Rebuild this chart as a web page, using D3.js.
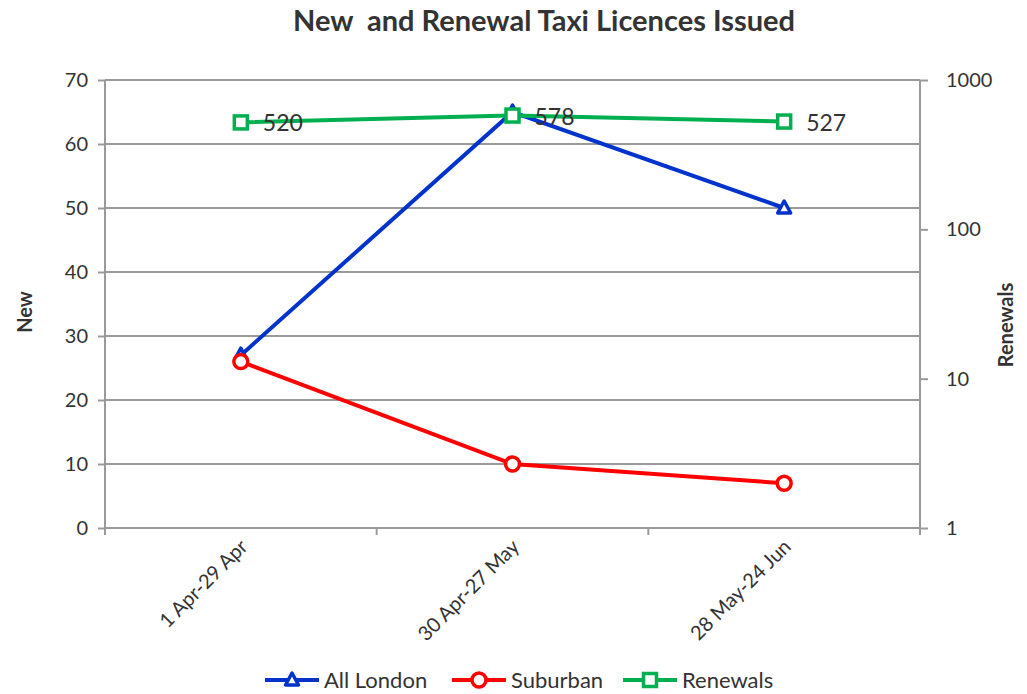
<!DOCTYPE html>
<html>
<head>
<meta charset="utf-8">
<script src="https://cdn.jsdelivr.net/npm/d3@7"></script>
<style>
  body { margin: 0; background: #fff; }
  text { font-family: Lato, "Open Sans", sans-serif; fill: #333; }
</style>
</head>
<body>
<script>
// data
var categories = ["1 Apr-29 Apr", "30 Apr-27 May", "28 May-24 Jun"];
var allLondon = [27, 65, 50];
var suburban = [26, 10, 7];
var renewals = [520, 578, 527];
var leftTicks = [0, 10, 20, 30, 40, 50, 60, 70];
var rightTicks = [1, 10, 100, 1000];

var width = 1027, height = 694;
var margin = { top: 80, right: 107, bottom: 166, left: 105 };
var innerW = width - margin.left - margin.right,
    innerH = height - margin.top - margin.bottom;

var svg = d3.select("body").append("svg")
    .attr("width", width)
    .attr("height", height);

var g = svg.append("g")
    .attr("transform", "translate(" + margin.left + "," + margin.top + ")");

var x = d3.scaleBand().domain(categories).range([0, innerW]);
var yL = d3.scaleLinear().domain([0, 70]).range([innerH, 0]);
var yR = d3.scaleLog().domain([1, 1000]).range([innerH, 0]);

var gridColor = "#9a9a9a";

// gridlines
g.selectAll("line.grid")
    .data(leftTicks)
    .enter().append("line")
    .attr("class", "grid")
    .attr("x1", 0).attr("x2", innerW)
    .attr("y1", function (d) { return yL(d); })
    .attr("y2", function (d) { return yL(d); })
    .attr("stroke", gridColor)
    .attr("stroke-width", 2);

// left axis
var leftAxis = g.append("g")
    .call(d3.axisLeft(yL).tickValues(leftTicks).tickSize(7).tickPadding(10));
// right axis
var rightAxis = g.append("g")
    .attr("transform", "translate(" + innerW + ",0)")
    .call(d3.axisRight(yR).tickValues(rightTicks).tickFormat(d3.format("d")).tickSize(8).tickPadding(18));
// bottom axis: ticks at band boundaries
var bottomAxis = g.append("g")
    .attr("transform", "translate(0," + innerH + ")");
bottomAxis.append("line")
    .attr("x1", 0).attr("x2", innerW)
    .attr("stroke", gridColor).attr("stroke-width", 2);
var bounds = categories.map(function (c) { return x(c); }).concat([innerW]);
bottomAxis.selectAll("line.tick")
    .data(bounds)
    .enter().append("line")
    .attr("class", "tick")
    .attr("x1", function (d) { return d; })
    .attr("x2", function (d) { return d; })
    .attr("y1", 0).attr("y2", 7)
    .attr("stroke", gridColor).attr("stroke-width", 2);
bottomAxis.selectAll("text")
    .data(categories)
    .enter().append("text")
    .attr("transform", function (d) {
        return "translate(" + (x(d) + x.bandwidth() / 2 + 8) + ",20) rotate(-45)";
    })
    .attr("text-anchor", "end")
    .attr("font-size", 20)
    .text(function (d) { return d; });

[leftAxis, rightAxis].forEach(function (a) {
    a.select(".domain").attr("stroke", gridColor).attr("stroke-width", 2);
    a.selectAll(".tick line").attr("stroke", gridColor).attr("stroke-width", 2);
    a.selectAll(".tick text").attr("font-size", 20).attr("fill", "#333")
        .style("font-family", "Lato, sans-serif");
});
leftAxis.select(".domain").attr("d", "M0,0V" + innerH);
rightAxis.select(".domain").attr("d", "M0,0V" + (innerH + 7));

// title and axis titles
svg.append("text")
    .attr("x", 544).attr("y", 31)
    .attr("text-anchor", "middle")
    .attr("font-size", 29).attr("font-weight", "bold")
    .attr("xml:space", "preserve")
    .style("white-space", "pre")
    .text("New  and Renewal Taxi Licences Issued");
svg.append("text")
    .attr("transform", "translate(32,312) rotate(-90)")
    .attr("text-anchor", "middle")
    .attr("font-size", 20).attr("font-weight", "bold")
    .text("New");
svg.append("text")
    .attr("transform", "translate(1013,325) rotate(-90)")
    .attr("text-anchor", "middle")
    .attr("font-size", 20).attr("font-weight", "bold")
    .text("Renewals");

var cx = function (d, i) { return x(categories[i]) + x.bandwidth() / 2; };

var series = [
    { name: "All London", values: allLondon, y: yL, color: "#0033cc", marker: "triangle" },
    { name: "Suburban", values: suburban, y: yL, color: "#ff0000", marker: "circle" },
    { name: "Renewals", values: renewals, y: yR, color: "#00b050", marker: "square" }
];

function drawMarker(sel, type, color) {
    if (type === "circle") {
        sel.append("circle").attr("r", 7)
            .attr("fill", "#fff").attr("stroke", color).attr("stroke-width", 3.5);
    } else if (type === "square") {
        sel.append("rect").attr("x", -6.5).attr("y", -6.5).attr("width", 13).attr("height", 13)
            .attr("fill", "#fff").attr("stroke", color).attr("stroke-width", 3.5);
    } else {
        sel.append("path").attr("d", "M0,-7L6.5,5L-6.5,5Z")
            .attr("fill", "#fff").attr("stroke", color).attr("stroke-width", 3.5)
            .attr("stroke-linejoin", "round");
    }
}

series.forEach(function (s) {
    var line = d3.line()
        .x(function (d, i) { return cx(d, i); })
        .y(function (d) { return s.y(d); });
    g.append("path")
        .datum(s.values)
        .attr("d", line)
        .attr("fill", "none")
        .attr("stroke", s.color)
        .attr("stroke-width", 4);
});

series.forEach(function (s) {
    s.values.forEach(function (v, i) {
        var m = g.append("g")
            .attr("transform", "translate(" + cx(v, i) + "," + s.y(v) + ")");
        drawMarker(m, s.marker, s.color);
    });
});

// data labels for renewals
g.selectAll("text.lbl")
    .data(renewals)
    .enter().append("text")
    .attr("class", "lbl")
    .attr("x", function (d, i) { return cx(d, i) + 22; })
    .attr("y", function (d) { return yR(d) + 9; })
    .attr("font-size", 23)
    .text(function (d) { return d; });

// legend
var legendX = [265, 452, 623];
var legend = svg.selectAll("g.legend")
    .data(series)
    .enter().append("g")
    .attr("class", "legend")
    .attr("transform", function (d, i) { return "translate(" + legendX[i] + ",680)"; });
legend.append("line")
    .attr("x1", 0).attr("x2", 54)
    .attr("stroke", function (d) { return d.color; })
    .attr("stroke-width", 4);
legend.each(function (d) {
    var m = d3.select(this).append("g").attr("transform", "translate(27,0)");
    drawMarker(m, d.marker, d.color);
});
legend.append("text")
    .attr("x", 59).attr("y", 8)
    .attr("font-size", 22)
    .text(function (d) { return d.name; });
</script>
</body>
</html>
